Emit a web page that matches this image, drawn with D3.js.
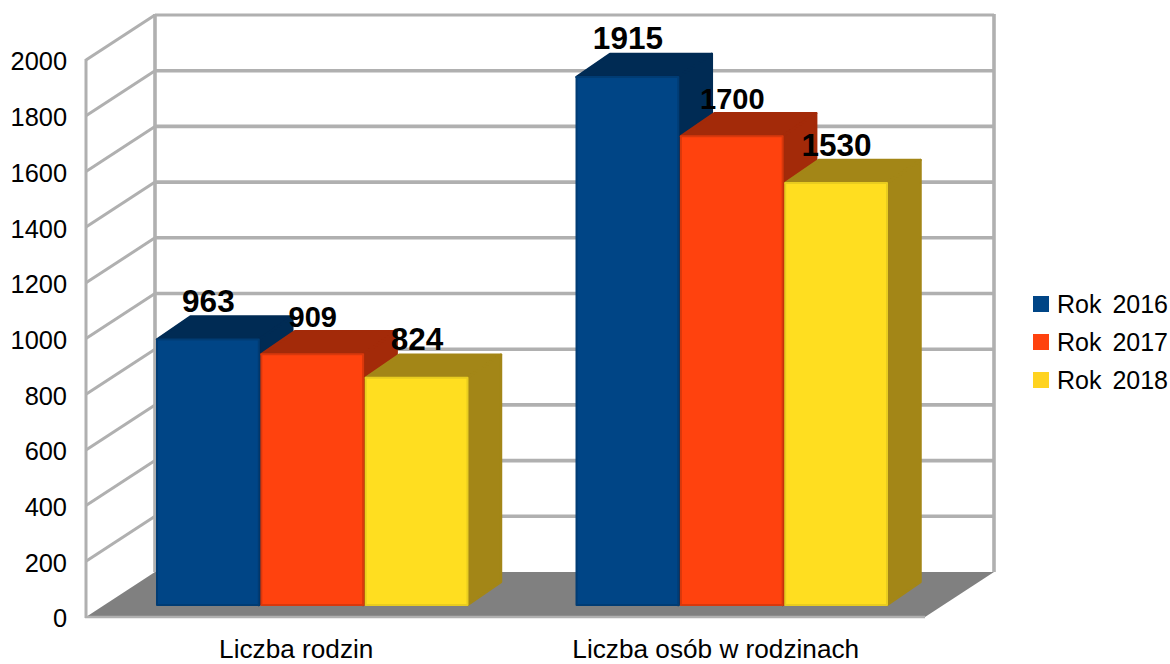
<!DOCTYPE html>
<html><head><meta charset="utf-8">
<script src="https://cdn.jsdelivr.net/npm/d3@7"></script>
<style>html,body{margin:0;padding:0;background:#fff}svg{display:block}text{font-family:"Liberation Sans",Arial,sans-serif}</style>
</head><body><svg id="c" width="1170" height="664"></svg>
<script>
const categories = ["Liczba rodzin", "Liczba osób w rodzinach"];
const seriesNames = ["Rok 2016", "Rok 2017", "Rok 2018"];
const rok2016 = [963, 1915];
const rok2017 = [909, 1700];
const rok2018 = [824, 1530];
const seriesValues = [rok2016, rok2017, rok2018];
const frontColors = ["#004586", "#ff420e", "#ffde20"];
const legendColors = ["#004586", "#ff420e", "#ffd320"];
const sideColors = ["#002b54", "#a32a09", "#a38617"];
const edgeColors = ["#003c74", "#d9380c", "#e8cc20"];
const labelSizes = [31.5, 29, 31.5];
const yTicks = d3.range(0, 2001, 200);

const svg = d3.select("#c");
const grid = "#b0b0b0";
const wallDx = 69, wallDy = -45;
const x0 = d3.scaleBand().domain(d3.range(categories.length)).range([86, 925]).paddingInner(0.2575).paddingOuter(0.1287);
const x1 = d3.scaleBand().domain(d3.range(seriesNames.length)).range([0, x0.bandwidth()]).paddingInner(0.015);
const y = d3.scaleLinear().domain([0, 2000]).range([617, 60]);
const yBar = d3.scaleLinear().domain([0, 2000]).range([605, 53.5]);
const barShift = 16, depthX = 33.5, depthY = -23;

// floor
svg.append("polygon").attr("fill", "#808080")
  .attr("points", [[86, y(0)], [86 + wallDx, y(0) + wallDy], [925 + wallDx, y(0) + wallDy], [925, y(0)]].join(" "));

// gridlines on walls
const g = svg.append("g").attr("stroke", grid).attr("fill", "none");
yTicks.forEach(t => {
  if (t > 0) g.append("line").attr("x1", 155).attr("x2", 994).attr("y1", y(t) + wallDy).attr("y2", y(t) + wallDy).attr("stroke-width", t === 2000 ? 3 : 3.6);
  if (t > 0) g.append("line").attr("x1", 86).attr("x2", 155).attr("y1", y(t)).attr("y2", y(t) + wallDy).attr("stroke-width", 3);
});
g.append("line").attr("x1", 155).attr("x2", 155).attr("y1", y(2000) + wallDy - 1).attr("y2", y(0) + wallDy).attr("stroke-width", 3.6);
g.append("line").attr("x1", 994).attr("x2", 994).attr("y1", y(2000) + wallDy - 1).attr("y2", y(0) + wallDy).attr("stroke-width", 3.6);
g.append("line").attr("x1", 86).attr("x2", 86).attr("y1", y(2000) - 1).attr("y2", y(0) + 1).attr("stroke-width", 3);
g.append("line").attr("x1", 85).attr("x2", 925).attr("y1", y(0)).attr("y2", y(0)).attr("stroke-width", 2.5);

// y axis labels
const axis = svg.append("g").attr("transform", "translate(86,1.8)")
  .call(d3.axisLeft(y).tickValues(yTicks).tickSize(0).tickPadding(19).tickFormat(d3.format("d")));
axis.select(".domain").remove();
axis.selectAll("text").attr("font-size", 25.4).attr("fill", "#000").attr("font-family", '"Liberation Sans",Arial,sans-serif');

// category axis labels
const catAxis = svg.append("g");
categories.forEach((c, i) => {
  catAxis.append("text").attr("x", x0(i) + x0.bandwidth() / 2 + 0.5).attr("y", 658)
    .attr("text-anchor", "middle").attr("font-size", 26.2).attr("fill", "#000").text(c);
});

// bars, drawn left to right so each overlaps the side of the previous
const bars = svg.append("g");
const labels = svg.append("g");
categories.forEach((c, i) => {
  seriesValues.forEach((vals, s) => {
    const v = vals[i];
    const l = x0(i) + x1(s) + barShift + 1, r = l + x1.bandwidth() - 1;
    const t = yBar(v), b = yBar(0);
    const poly = (pts, fill, stroke, w) => bars.append("polygon").attr("points", pts.join(" "))
      .attr("fill", fill).attr("stroke", stroke).attr("stroke-width", w).attr("stroke-linejoin", "round");
    poly([[l, t], [l + depthX, t + depthY], [r + depthX, t + depthY], [r, t]], sideColors[s], sideColors[s], 2.5);
    poly([[r, t], [r + depthX, t + depthY], [r + depthX, b + depthY], [r, b]], sideColors[s], sideColors[s], 2.5);
    poly([[l, t], [r, t], [r, b], [l, b]], frontColors[s], edgeColors[s], 2);
    labels.append("text").attr("x", (l + r) / 2 + 0.5).attr("y", t - 27.5)
      .attr("text-anchor", "middle").attr("font-size", labelSizes[s]).attr("font-weight", "bold").attr("fill", "#000").text(v);
  });
});

// legend
const legendY = d3.scalePoint().domain(seriesNames).range([296, 372]);
seriesNames.forEach((n, s) => {
  svg.append("rect").attr("x", 1033).attr("y", legendY(n)).attr("width", 16).attr("height", 16).attr("fill", legendColors[s]);
  svg.append("text").attr("x", 1057).attr("y", legendY(n) + 17).attr("font-size", 25).attr("word-spacing", 4).attr("fill", "#000").text(n);
});
</script></body></html>
